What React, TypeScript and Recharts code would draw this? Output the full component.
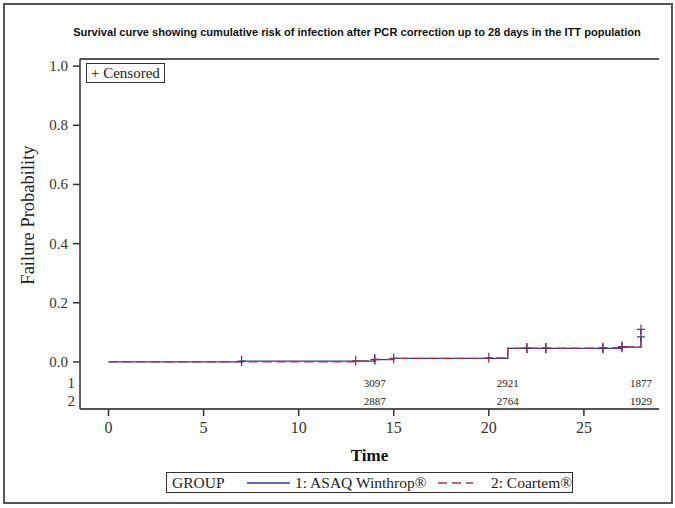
import React from 'react';
import { ComposedChart, Line, Scatter, XAxis, YAxis, ReferenceLine } from 'recharts';

// Kaplan-Meier failure curves (step points)
const stepTimes1 = [0, 7, 14, 15, 21, 27, 28];
const stepRisk1 = [0, 0.003, 0.008, 0.012, 0.046, 0.05, 0.085];
const stepTimes2 = [0, 13, 14, 15, 20, 21, 26, 27, 28];
const stepRisk2 = [0, 0.004, 0.009, 0.012, 0.014, 0.047, 0.048, 0.052, 0.11];

// censored marks
const censorTimes1 = [7, 14, 22, 23, 26, 27, 28];
const censorRisk1 = [0.003, 0.008, 0.046, 0.046, 0.046, 0.05, 0.085];
const censorTimes2 = [13, 14, 15, 20, 22, 23, 26, 27, 28];
const censorRisk2 = [0.004, 0.009, 0.012, 0.014, 0.047, 0.047, 0.048, 0.052, 0.11];

// numbers at risk
const atRiskTimes = [14, 21, 28];
const atRiskGroup1 = [3097, 2921, 1877];
const atRiskGroup2 = [2887, 2764, 1929];

const xTicks = [0, 5, 10, 15, 20, 25];
const yTicks = [0, 0.2, 0.4, 0.6, 0.8, 1.0];

const BLUE = '#2e3a9e';
const RED = '#a33846';
const SERIF = '"Liberation Serif", "DejaVu Serif", serif';
const ROW1_Y = -0.071;
const ROW2_Y = -0.132;
const Y_MIN = -0.159;
const Y_MAX = 1.024;

const toPoints = (ts: number[], vs: number[]) => ts.map((t, i) => ({ t, v: vs[i] }));

const curve1 = toPoints(stepTimes1, stepRisk1);
const curve2 = toPoints(stepTimes2, stepRisk2);
const censor1 = toPoints(censorTimes1, censorRisk1);
const censor2 = toPoints(censorTimes2, censorRisk2);
const riskRow1 = atRiskTimes.map((t, i) => ({ t, v: ROW1_Y, n: atRiskGroup1[i] }));
const riskRow2 = atRiskTimes.map((t, i) => ({ t, v: ROW2_Y, n: atRiskGroup2[i] }));

const plusShape = (color: string) => (p: any) => (
  <path d={`M${p.cx - 4},${p.cy}h8M${p.cx},${p.cy - 5}v10`} stroke={color} strokeWidth={1.2} fill="none" />
);

const riskText = (p: any) => (
  <text x={p.cx} y={p.cy} dy={4} textAnchor="middle" fontFamily={SERIF} fontSize={11} fill="#222">
    {p.payload.n}
  </text>
);

const YTick = (p: any) => {
  const v = p.payload.value;
  if (v < 0) {
    return (
      <text x={p.x + 7} y={p.y} dy={5} textAnchor="end" fontFamily={SERIF} fontSize={15} fill="#333">
        {v === ROW1_Y ? '1' : '2'}
      </text>
    );
  }
  return (
    <g>
      <line x1={p.x + 5} x2={p.x + 12} y1={p.y} y2={p.y} stroke="#333" strokeWidth={1.5} />
      <text x={p.x} y={p.y} dy={5} textAnchor="end" fontFamily={SERIF} fontSize={15} fill="#333">
        {v.toFixed(1)}
      </text>
    </g>
  );
};

const App: React.FC = () => {
  return (
    <div style={{ position: 'absolute', left: 0, top: 0, width: 675, height: 508, background: '#fff' }}>
      <div
        style={{
          position: 'absolute', left: 3, top: 3, width: 666, height: 497,
          border: '2px solid #555', boxSizing: 'content-box',
        }}
      />
      <div
        style={{
          position: 'absolute', left: 0, top: 26, width: 714, textAlign: 'center',
          fontFamily: '"Liberation Sans", Arial, sans-serif', fontWeight: 'bold', fontSize: 11.1, color: '#111',
        }}
      >
        Survival curve showing cumulative risk of infection after PCR correction up to 28 days in the ITT population
      </div>
      <ComposedChart
        width={675}
        height={508}
        margin={{ top: 59, right: 16, bottom: 43, left: 8 }}
        style={{ position: 'absolute', left: 0, top: 0 }}
      >
        <XAxis
          dataKey="t"
          type="number"
          domain={[-1.5, 28.95]}
          ticks={xTicks}
          allowDataOverflow
          height={56}
          tickSize={7}
          tickMargin={6}
          stroke="#555"
          strokeWidth={2}
          tick={{ fontFamily: SERIF, fontSize: 16, fill: '#333' }}
          tickLine={{ stroke: '#333', strokeWidth: 1.5 }}
          label={({ viewBox }: any) => (
            <text x={viewBox.x + viewBox.width / 2} y={viewBox.y + 52} textAnchor="middle"
              fontFamily={SERIF} fontWeight="bold" fontSize={17} fill="#111">Time</text>
          )}
        />
        <YAxis
          yAxisId={0}
          type="number"
          domain={[Y_MIN, Y_MAX]}
          ticks={[ROW2_Y, ROW1_Y, ...yTicks]}
          interval={0}
          allowDataOverflow
          width={72}
          tickSize={7}
          tickMargin={5}
          tickLine={false}
          stroke="#333"
          strokeWidth={1.5}
          tick={YTick}
          label={({ viewBox }: any) => (
            <text x={viewBox.x + 26} y={215} transform={`rotate(-90, ${viewBox.x + 26}, 215)`}
              textAnchor="middle" fontFamily={SERIF} fontSize={18.5} fill="#222">Failure Probability</text>
          )}
        />
        <YAxis yAxisId="right" orientation="right" type="number" domain={[0, 1]} width={0}
          tick={false} tickLine={false} stroke="#555" strokeWidth={2} />
        <ReferenceLine y={Y_MAX} stroke="#555" strokeWidth={2} ifOverflow="visible" />
        <Line data={curve1} dataKey="v" type="stepAfter" stroke={BLUE} strokeWidth={1.3}
          dot={false} isAnimationActive={false} />
        <Line data={curve2} dataKey="v" type="stepAfter" stroke={RED} strokeWidth={1.3}
          strokeDasharray="9 5" dot={false} isAnimationActive={false} />
        <Scatter data={censor1} dataKey="v" shape={plusShape(BLUE)} isAnimationActive={false} />
        <Scatter data={censor2} dataKey="v" shape={plusShape('#7a3050')} isAnimationActive={false} />
        <Scatter data={riskRow1} dataKey="v" shape={riskText} isAnimationActive={false} />
        <Scatter data={riskRow2} dataKey="v" shape={riskText} isAnimationActive={false} />
      </ComposedChart>
      <div
        style={{
          position: 'absolute', left: 86, top: 63, padding: '0 4px', height: 18, lineHeight: '18px',
          border: '1px solid #333', fontFamily: SERIF, fontSize: 15, color: '#222', background: '#fff',
        }}
      >
        + Censored
      </div>
      <div
        style={{
          position: 'absolute', left: 166, top: 472, width: 405, height: 19,
          border: '1px solid #333', display: 'flex', alignItems: 'center',
          fontFamily: SERIF, fontSize: 15.5, color: '#222', whiteSpace: 'nowrap',
        }}
      >
        <span style={{ marginLeft: 5 }}>GROUP</span>
        <svg width={48} height={10} style={{ marginLeft: 22 }}>
          <line x1={0} x2={48} y1={5} y2={5} stroke={BLUE} strokeWidth={1.3} />
        </svg>
        <span style={{ marginLeft: 5 }}>1: ASAQ Winthrop®</span>
        <svg width={38} height={10} style={{ marginLeft: 12 }}>
          <line x1={0} x2={38} y1={5} y2={5} stroke={RED} strokeWidth={1.3} strokeDasharray="9 5" />
        </svg>
        <span style={{ marginLeft: 18 }}>2: Coartem®</span>
      </div>
    </div>
  );
};

export default App;
